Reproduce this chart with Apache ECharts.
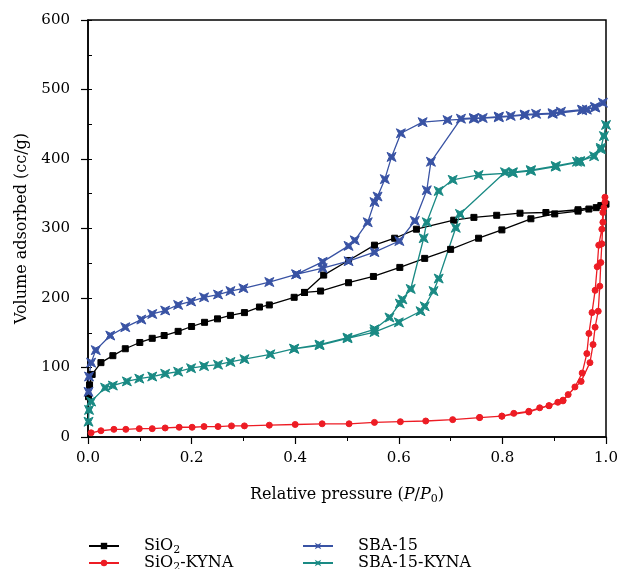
<!DOCTYPE html>
<html><head><meta charset="utf-8">
<script src="https://cdn.jsdelivr.net/npm/echarts@6/dist/echarts.min.js"></script>
<style>html,body{margin:0;padding:0;background:#fff}#c{width:621px;height:569px}</style>
</head><body><div id="c"></div><script>
// ---- data ----
const xTicks = [0.0, 0.2, 0.4, 0.6, 0.8, 1.0];
const yTicks = [0, 100, 200, 300, 400, 500, 600];
const seriesNames = ['SiO2', 'SiO2-KYNA', 'SBA-15', 'SBA-15-KYNA'];

// SiO2: adsorption then desorption (one connected loop)
const sio2X = [0.001,0.003,0.008,0.025,0.048,0.072,0.100,0.124,0.147,0.174,0.200,0.225,0.250,0.275,0.302,0.331,0.350,0.398,0.418,0.449,0.503,0.551,0.602,0.650,0.700,0.754,0.799,0.855,0.901,0.946,0.967,0.981,1.000,
               0.990,0.946,0.884,0.834,0.789,0.745,0.706,0.634,0.592,0.553,0.503,0.455,0.418];
const sio2Y = [58,75,90,107,117,127,136,142,146,152,159,165,170,175,179,187,190,201,208,210,222,231,244,257,270,286,298,314,321,325,328,330,335,
               333,327,323,322,319,316,312,299,286,276,254,233,208];

const sio2KX = [0.006,0.025,0.050,0.073,0.099,0.124,0.149,0.176,0.201,0.224,0.251,0.277,0.302,0.350,0.400,0.452,0.504,0.553,0.603,0.652,0.704,0.756,0.799,0.822,0.851,0.872,0.890,0.907,0.917,0.927,0.952,0.969,0.975,0.979,0.985,0.988,0.990,0.992,0.994,0.996,0.998,
                0.998,0.994,0.992,0.986,0.983,0.979,0.973,0.967,0.963,0.954,0.940,0.917,0.890,0.851,0.799,0.756];
const sio2KY = [6,9,11,11,12,12,13,14,14,15,15,16,16,17,18,19,19,21,22,23,25,28,30,34,37,42,45,50,53,61,80,107,133,158,181,217,251,278,309,330,345,
                338,323,299,276,245,211,179,149,120,92,72,52,45,36,30,28];

const sbaX = [0.001,0.002,0.006,0.015,0.043,0.072,0.103,0.124,0.149,0.174,0.199,0.224,0.251,0.275,0.300,0.350,0.402,0.453,0.503,0.553,0.601,0.631,0.654,0.662,0.720,0.745,0.762,0.793,0.816,0.843,0.865,0.897,0.913,0.954,0.963,0.979,0.994,
              0.979,0.954,0.897,0.843,0.793,0.745,0.694,0.646,0.604,0.586,0.573,0.559,0.553,0.540,0.515,0.503,0.453,0.402];
const sbaY = [65,87,107,125,146,158,169,177,182,190,195,201,205,210,214,223,234,243,253,266,282,311,355,396,458,459,459,461,462,464,465,466,468,471,471,475,481,
              474,470,465,463,460,458,456,453,437,403,371,346,338,309,283,275,252,234];

const sbaKX = [0.001,0.002,0.006,0.033,0.048,0.075,0.099,0.124,0.149,0.174,0.199,0.224,0.251,0.275,0.302,0.352,0.398,0.447,0.501,0.553,0.600,0.642,0.650,0.667,0.677,0.710,0.718,0.805,0.820,0.855,0.903,0.944,0.950,0.977,0.990,0.996,1.000,
               0.990,0.950,0.903,0.855,0.820,0.754,0.704,0.677,0.654,0.648,0.623,0.607,0.602,0.582,0.553,0.501,0.447,0.398];
const sbaKY = [22,39,51,71,74,80,84,87,91,94,99,102,104,108,112,119,127,132,142,151,165,181,188,210,228,301,321,381,381,384,390,396,397,404,416,433,449,
               414,396,389,383,380,377,370,354,309,286,213,198,192,172,155,143,133,127];

// ---- styling ----
const FONT = 'DejaVu Serif';
const colors = ['#000000', '#ed1c24', '#3953a4', '#1a8a84'];
const star = 'path://M0,0 L6,3 L12,0 L9,6 L12,12 L6,9 L0,12 L3,6 Z';
const symbols = ['rect', 'circle', star, star];
const sizes = [6, 6, 9, 9];

function zip(xs, ys) { return xs.map((x, i) => [x, ys[i]]); }
const allData = [zip(sio2X, sio2Y), zip(sio2KX, sio2KY), zip(sbaX, sbaY), zip(sbaKX, sbaKY)];

const series = seriesNames.map((n, i) => ({
  name: n, type: 'line', data: allData[i], yAxisIndex: 0,
  symbol: symbols[i], symbolSize: sizes[i], showSymbol: true,
  lineStyle: { color: colors[i], width: 1.3 },
  itemStyle: { color: colors[i], borderColor: colors[i] },
  animation: false
}));

const legendLabels = {
  'SiO2': '{n|SiO}{s|2}',
  'SiO2-KYNA': '{n|SiO}{s|2}{m|-KYNA}',
  'SBA-15': '{n|SBA-15}',
  'SBA-15-KYNA': '{n|SBA-15-KYNA}'
};
const legendText = {
  color: '#000', fontFamily: FONT, fontSize: 16,
  rich: {
    n: { fontFamily: FONT, fontSize: 16, color: '#000', padding: [0, 0, 0, 20] },
    m: { fontFamily: FONT, fontSize: 16, color: '#000' },
    s: { fontFamily: FONT, fontSize: 11, color: '#000', padding: [9, 0, 0, 0] }
  }
};
function mkLegend(left, top, name) {
  return {
    left: left, top: top, orient: 'horizontal', padding: 0,
    itemWidth: 30, itemHeight: 8, data: [name],
    formatter: n => legendLabels[n], textStyle: legendText
  };
}

const option = {
  backgroundColor: '#fff',
  animation: false,
  color: colors,
  grid: { left: 88, right: 15, top: 20, bottom: 132, show: true, borderColor: '#000', borderWidth: 1.5 },
  legend: [
    mkLegend(88, 538, 'SiO2'), mkLegend(88, 555, 'SiO2-KYNA'),
    mkLegend(302, 538, 'SBA-15'), mkLegend(302, 555, 'SBA-15-KYNA')
  ],
  xAxis: {
    type: 'value', min: xTicks[0], max: xTicks[xTicks.length - 1], interval: 0.2,
    name: '{t|Relative pressure (}{i|P}{t|/}{i|P}{s|0}{t|)}',
    nameLocation: 'middle', nameGap: 48,
    nameTextStyle: {
      rich: {
        t: { fontFamily: FONT, fontSize: 16, color: '#000' },
        i: { fontFamily: FONT, fontSize: 16, color: '#000', fontStyle: 'italic' },
        s: { fontFamily: FONT, fontSize: 11, color: '#000', padding: [9, 0, 0, 0] }
      }
    },
    axisLine: { lineStyle: { color: '#000', width: 1.5 } },
    axisTick: { length: 7, lineStyle: { color: '#000', width: 1.2 } },
    minorTick: { show: true, splitNumber: 2, length: 4, lineStyle: { color: '#000', width: 1 } },
    splitLine: { show: false },
    axisLabel: { fontFamily: FONT, fontSize: 15, color: '#000', margin: 14, formatter: v => v.toFixed(1) }
  },
  yAxis: [{
    type: 'value', min: yTicks[0], max: yTicks[yTicks.length - 1], interval: 100,
    name: 'Volume adsorbed (cc/g)', nameLocation: 'middle', nameGap: 58,
    nameTextStyle: { fontFamily: FONT, fontSize: 16, color: '#000' },
    axisLine: { show: true, lineStyle: { color: '#000', width: 1.5 } },
    axisTick: { show: true, length: 7, lineStyle: { color: '#000', width: 1.2 } },
    splitLine: { show: false },
    axisLabel: { fontFamily: FONT, fontSize: 15, color: '#000', margin: 18 }
  }, {
    type: 'value', position: 'left', offset: 0, min: 0, max: 600, interval: 50,
    axisLine: { show: false },
    axisTick: { show: true, inside: true, length: 4, lineStyle: { color: '#000', width: 1 } },
    axisLabel: { show: false }, splitLine: { show: false }
  }],
  series: series
};
echarts.init(document.getElementById('c'), null, { renderer: 'canvas' }).setOption(option);
</script></body></html>
